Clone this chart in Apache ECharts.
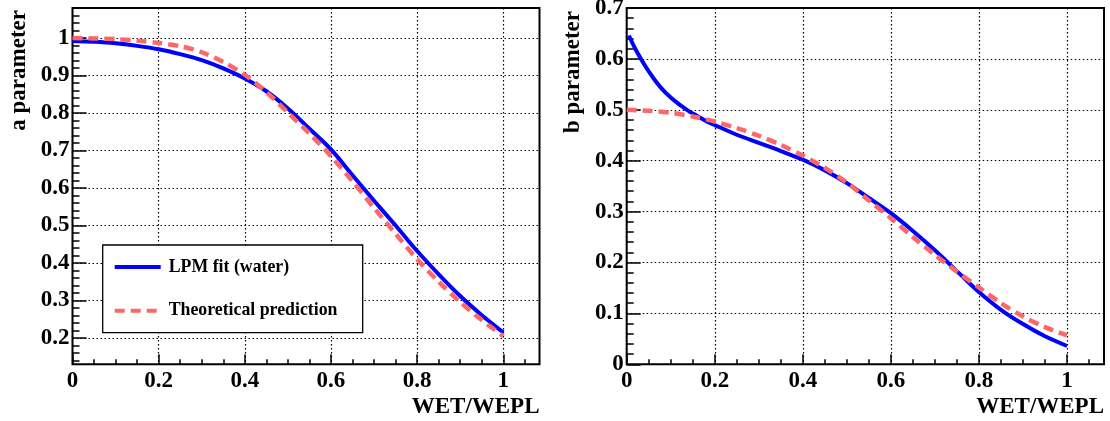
<!DOCTYPE html>
<html>
<head>
<meta charset="utf-8">
<script src="https://cdn.jsdelivr.net/npm/echarts@6/dist/echarts.min.js"></script>
<style>
  html, body { margin: 0; padding: 0; background: #fff; }
  #chart { width: 1110px; height: 421px; }
</style>
</head>
<body>
<div id="chart"></div>
<script>
// ---- a parameter vs WET/WEPL ----
const wetA = [0, 0.05, 0.1, 0.15, 0.2, 0.25, 0.3, 0.35, 0.4, 0.45, 0.5,
              0.55, 0.6, 0.65, 0.7, 0.75, 0.8, 0.85, 0.9, 0.95, 1.0];
const aFit = [0.992, 0.990, 0.986, 0.979, 0.970, 0.957, 0.941, 0.919, 0.892, 0.858, 0.812,
              0.758, 0.703, 0.634, 0.566, 0.500, 0.432, 0.370, 0.312, 0.261, 0.215];
const aTheory = [1.000, 0.999, 0.997, 0.993, 0.987, 0.978, 0.962, 0.936, 0.902, 0.856, 0.801,
                 0.745, 0.685, 0.618, 0.547, 0.478, 0.410, 0.350, 0.296, 0.248, 0.205];

// ---- b parameter vs WET/WEPL ----
const wetBFit = [0.005, 0.02, 0.04, 0.06, 0.08, 0.1, 0.12, 0.14, 0.16, 0.18, 0.2, 0.25, 0.3, 0.35,
                 0.4, 0.45, 0.5, 0.55, 0.6, 0.65, 0.7, 0.75, 0.8, 0.85, 0.9, 0.95, 1.0];
const bFit = [0.646, 0.619, 0.589, 0.563, 0.541, 0.524, 0.510, 0.498, 0.488, 0.478, 0.470, 0.451, 0.435, 0.419,
              0.402, 0.381, 0.356, 0.327, 0.297, 0.262, 0.224, 0.183, 0.142, 0.107, 0.079, 0.055, 0.036];
const wetBTheory = [0, 0.05, 0.1, 0.15, 0.2, 0.25, 0.3, 0.35, 0.4, 0.45, 0.5,
                    0.55, 0.6, 0.65, 0.7, 0.75, 0.8, 0.85, 0.9, 0.95, 1.0];
const bTheory = [0.500, 0.498, 0.494, 0.487, 0.477, 0.464, 0.449, 0.431, 0.410, 0.386, 0.357,
                 0.322, 0.287, 0.250, 0.215, 0.182, 0.151, 0.120, 0.094, 0.073, 0.057];

// ---- axis ticks ----
const xMajorTicks = [0, 0.2, 0.4, 0.6, 0.8, 1];
const aMajorTicks = [0.2, 0.3, 0.4, 0.5, 0.6, 0.7, 0.8, 0.9, 1];
const bMajorTicks = [0, 0.1, 0.2, 0.3, 0.4, 0.5, 0.6, 0.7];

const seriesNames = ['LPM fit (water)', 'Theoretical prediction'];
const xTitle = 'WET/WEPL';
const yTitles = ['a parameter', 'b parameter'];

function steps(from, to, step) {
  const out = [];
  const n = Math.round((to - from) / step);
  for (let i = 0; i <= n; i++) out.push(+(from + i * step).toFixed(4));
  return out;
}
const xMinorTicks = steps(0, 1.05, 0.05);
const aMinorTicks = steps(0.14, 1.08, 0.02);
const bMinorTicks = steps(0, 0.7, 0.02);

const X_MAX = 1.084;
const A_RANGE = [0.13, 1.08];
const B_RANGE = [0, 0.7];

const FONT = 'Liberation Serif';
const BLUE = '#0000ff';
const RED = '#ff6666';

const tickStyle = { color: '#000', width: 1.5 };
const gridStyle = { color: '#000', width: 1.2, type: [1.5, 2.5] };
const labelStyle = { fontFamily: FONT, fontWeight: 'bold', fontSize: 23, color: '#000' };
const fmt = v => String(Math.round(v * 10) / 10);

function pairs(xs, ys) { return xs.map((x, i) => [x, ys[i]]); }

function xAxesFor(g) {
  return [
    { gridIndex: g, type: 'value', position: 'bottom', min: 0, max: X_MAX,
      axisLine: { show: false },
      axisTick: { show: true, inside: true, length: 10, customValues: xMajorTicks, lineStyle: tickStyle },
      axisLabel: Object.assign({ customValues: xMajorTicks, formatter: fmt, margin: 5 }, labelStyle),
      splitLine: { show: true, lineStyle: gridStyle } },
    { gridIndex: g, type: 'value', position: 'bottom', min: 0, max: X_MAX,
      axisLine: { show: false },
      axisTick: { show: true, inside: true, length: 5, customValues: xMinorTicks, lineStyle: tickStyle },
      axisLabel: { show: false }, splitLine: { show: false } }
  ];
}
function yAxesFor(g, range, major, minor) {
  return [
    { gridIndex: g, type: 'value', position: 'left', min: range[0], max: range[1],
      axisLine: { show: false },
      axisTick: { show: true, inside: true, length: 14, customValues: major, lineStyle: tickStyle },
      axisLabel: Object.assign({ customValues: major, formatter: fmt, margin: 3 }, labelStyle),
      splitLine: { show: true, lineStyle: gridStyle } },
    { gridIndex: g, type: 'value', position: 'left', min: range[0], max: range[1],
      axisLine: { show: false },
      axisTick: { show: true, inside: true, length: 7, customValues: minor, lineStyle: tickStyle },
      axisLabel: { show: false }, splitLine: { show: false } }
  ];
}

function lineSeries(name, xi, yi, data, color, dashed) {
  return {
    name, type: 'line', xAxisIndex: xi, yAxisIndex: yi, data,
    symbol: 'none', showSymbol: false, smooth: 0.3,
    lineStyle: { color, width: dashed ? 4.5 : 4, type: dashed ? [10, 6] : 'solid', cap: 'butt', join: 'round' },
    itemStyle: { color },
    emphasis: { disabled: true }, silent: true, animation: false
  };
}

const titleFont = 'bold 23px "' + FONT + '"';

const chart = echarts.init(document.getElementById('chart'), null, { renderer: 'canvas' });
chart.setOption({
  animation: false,
  backgroundColor: '#fff',
  textStyle: { fontFamily: FONT, fontWeight: 'bold' },
  grid: [
    { left: 72.5, top: 8, width: 467, height: 356.3, show: true, borderColor: '#000', borderWidth: 2,
      backgroundColor: 'transparent', containLabel: false, outerBoundsMode: 'none' },
    { left: 626.7, top: 8, width: 477.3, height: 356.3, show: true, borderColor: '#000', borderWidth: 2,
      backgroundColor: 'transparent', containLabel: false, outerBoundsMode: 'none' }
  ],
  xAxis: [].concat(xAxesFor(0), xAxesFor(1)),
  yAxis: [].concat(yAxesFor(0, A_RANGE, aMajorTicks, aMinorTicks), yAxesFor(1, B_RANGE, bMajorTicks, bMinorTicks)),
  legend: {
    data: seriesNames,
    orient: 'vertical', left: 102.7, top: 245, z: 10,
    padding: [12, 10, 12, 10], itemGap: 23.7, itemWidth: 46, itemHeight: 20,
    selectedMode: false,
    itemStyle: { opacity: 0 },
    lineStyle: { width: 4 },
    textStyle: { fontFamily: FONT, fontWeight: 'bold', fontSize: 17.8, color: '#000', lineHeight: 20, padding: [0, 0, 0, 3] }
  },
  graphic: [
    { type: 'rect', z: 9, shape: { x: 102.7, y: 245, width: 260, height: 87.7 },
      style: { fill: '#fff', stroke: '#000', lineWidth: 1.3 } },
    { type: 'text', x: 19.5, y: 10, rotation: Math.PI / 2,
      style: { text: yTitles[0], font: titleFont, fill: '#000', align: 'right', verticalAlign: 'middle' } },
    { type: 'text', x: 573, y: 11, rotation: Math.PI / 2,
      style: { text: yTitles[1], font: titleFont, fill: '#000', align: 'right', verticalAlign: 'middle' } },
    { type: 'text', x: 539.5, y: 407.5,
      style: { text: xTitle, font: titleFont, fill: '#000', align: 'right', verticalAlign: 'middle' } },
    { type: 'text', x: 1104, y: 407.5,
      style: { text: xTitle, font: titleFont, fill: '#000', align: 'right', verticalAlign: 'middle' } }
  ],
  series: [
    lineSeries(seriesNames[0], 0, 0, pairs(wetA, aFit), BLUE, false),
    lineSeries(seriesNames[1], 0, 0, pairs(wetA, aTheory), RED, true),
    lineSeries(seriesNames[0], 2, 2, pairs(wetBFit, bFit), BLUE, false),
    lineSeries(seriesNames[1], 2, 2, pairs(wetBTheory, bTheory), RED, true)
  ]
});
</script>
</body>
</html>
